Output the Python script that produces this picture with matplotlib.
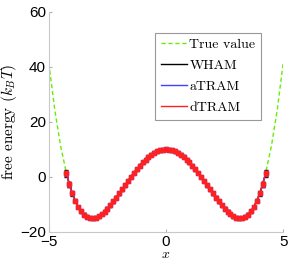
import numpy as np
import matplotlib
matplotlib.use("Agg")
from matplotlib import pyplot as plt
from matplotlib.lines import Line2D

# true potential
true_x = [-5.0, -4.75, -4.5, -4.25, -4.0, -3.75, -3.5, -3.25, -3.0, -2.75, -2.5, -2.25,
          -2.0, -1.75, -1.5, -1.25, -1.0, -0.75, -0.5, -0.25, 0.0, 0.25, 0.5, 0.75,
          1.0, 1.25, 1.5, 1.75, 2.0, 2.25, 2.5, 2.75, 3.0, 3.25, 3.5, 3.75, 4.0,
          4.25, 4.5, 4.75, 5.0]
true_f = [41.3, 24.5, 11.3, 1.3, -6.0, -10.9, -13.7, -14.9, -14.8, -13.5, -11.5, -8.9,
          -6.0, -3.0, 0.0, 2.8, 5.3, 7.3, 8.8, 9.7, 10.0, 9.7, 8.8, 7.3,
          5.3, 2.8, 0.0, -3.0, -6.0, -8.9, -11.5, -13.5, -14.8, -14.9, -13.7, -10.9, -6.0,
          1.3, 11.3, 24.5, 41.3]

# estimated bins
bin_x = [-4.25, -4.125, -4.0, -3.875, -3.75, -3.625, -3.5, -3.375, -3.25, -3.125,
         -3.0, -2.875, -2.75, -2.625, -2.5, -2.375, -2.25, -2.125, -2.0, -1.875,
         -1.75, -1.625, -1.5, -1.375, -1.25, -1.125, -1.0, -0.875, -0.75, -0.625,
         -0.5, -0.375, -0.25, -0.125, 0.0, 0.125, 0.25, 0.375, 0.5, 0.625,
         0.75, 0.875, 1.0, 1.125, 1.25, 1.375, 1.5, 1.625, 1.75, 1.875,
         2.0, 2.125, 2.25, 2.375, 2.5, 2.625, 2.75, 2.875, 3.0, 3.125,
         3.25, 3.375, 3.5, 3.625, 3.75, 3.875, 4.0, 4.125, 4.25]
est_f = [1.3, -2.7, -6.0, -8.7, -10.9, -12.5, -13.7, -14.5, -14.9, -15.0,
         -14.8, -14.3, -13.5, -12.6, -11.5, -10.3, -8.9, -7.5, -6.0, -4.5,
         -3.0, -1.5, 0.0, 1.4, 2.8, 4.1, 5.3, 6.3, 7.3, 8.1,
         8.8, 9.3, 9.7, 9.9, 10.0, 9.9, 9.7, 9.3, 8.8, 8.1,
         7.3, 6.3, 5.3, 4.1, 2.8, 1.4, 0.0, -1.5, -3.0, -4.5,
         -6.0, -7.5, -8.9, -10.3, -11.5, -12.6, -13.5, -14.3, -14.8, -15.0,
         -14.9, -14.5, -13.7, -12.5, -10.9, -8.7, -6.0, -2.7, 1.3]
wham_f = est_f
atram_f = est_f
dtram_f = est_f
wham_err = [1.4, 1.0, 0.8] + [0.5] * 63 + [0.8, 1.0, 1.4]
atram_err = [1.0, 0.8, 0.6] + [0.4] * 63 + [0.6, 0.8, 1.0]
dtram_err = [1.0, 0.8, 0.6] + [0.4] * 63 + [0.6, 0.8, 1.0]

labels = ["True value", "WHAM", "aTRAM", "dTRAM"]
c_true, c_wham, c_atram, c_dtram = "#66ee00", "black", "#4040ff", "#ff2020"

plt.rcParams["mathtext.fontset"] = "cm"
serif = "cmr10"

fig = plt.figure(figsize=(2.91, 2.60), dpi=100)
ax = fig.add_axes([0.168, 0.108, 0.805, 0.846])

ax.plot(true_x, true_f, "--", color=c_true, lw=1.0, dashes=(3, 2))
ax.errorbar(bin_x, wham_f, yerr=wham_err, fmt="-", color=c_wham, lw=1.0,
            capsize=1.5, elinewidth=1.0)
ax.errorbar(bin_x, atram_f, yerr=atram_err, fmt="-s", color=c_atram, lw=1.0, ms=3.2,
            capsize=1.5, elinewidth=1.0)
ax.errorbar(bin_x, dtram_f, yerr=dtram_err, fmt="-s", color=c_dtram, lw=1.0, ms=2.5,
            capsize=1.5, elinewidth=1.0)

ax.set_xlim(-5, 5)
ax.set_ylim(-20, 60)
ax.set_xticks([-5, 0, 5])
ax.set_yticks([-20, 0, 20, 40, 60])
for s in ["top", "right"]:
    ax.spines[s].set_visible(False)
for s in ["left", "bottom"]:
    ax.spines[s].set_color("#c8c8c8")
ax.tick_params(direction="in", length=2, color="#b0b0b0", labelsize=11, pad=2)
for t in ax.get_xticklabels() + ax.get_yticklabels():
    t.set_family("Liberation Sans")

ax.set_xlabel("$x$", fontsize=10, labelpad=-1)
ax.set_ylabel(r"free energy ($k_BT$)", fontsize=11, family=serif, labelpad=1)

hl = [Line2D([], [], ls="--", color=c_true, lw=1.0, dashes=(3, 2)),
      Line2D([], [], color=c_wham, lw=1.0),
      Line2D([], [], color=c_atram, lw=1.0),
      Line2D([], [], color=c_dtram, lw=1.0)]
leg = ax.legend(hl, labels, loc="upper right", bbox_to_anchor=(0.905, 0.905),
                prop={"family": serif, "size": 10}, fancybox=False, framealpha=1,
                edgecolor="#999999", handlelength=1.9, handletextpad=0.15,
                borderpad=0.4, labelspacing=0.6, borderaxespad=0)
leg.get_frame().set_linewidth(0.8)

fig.savefig("out.png", dpi=100)
